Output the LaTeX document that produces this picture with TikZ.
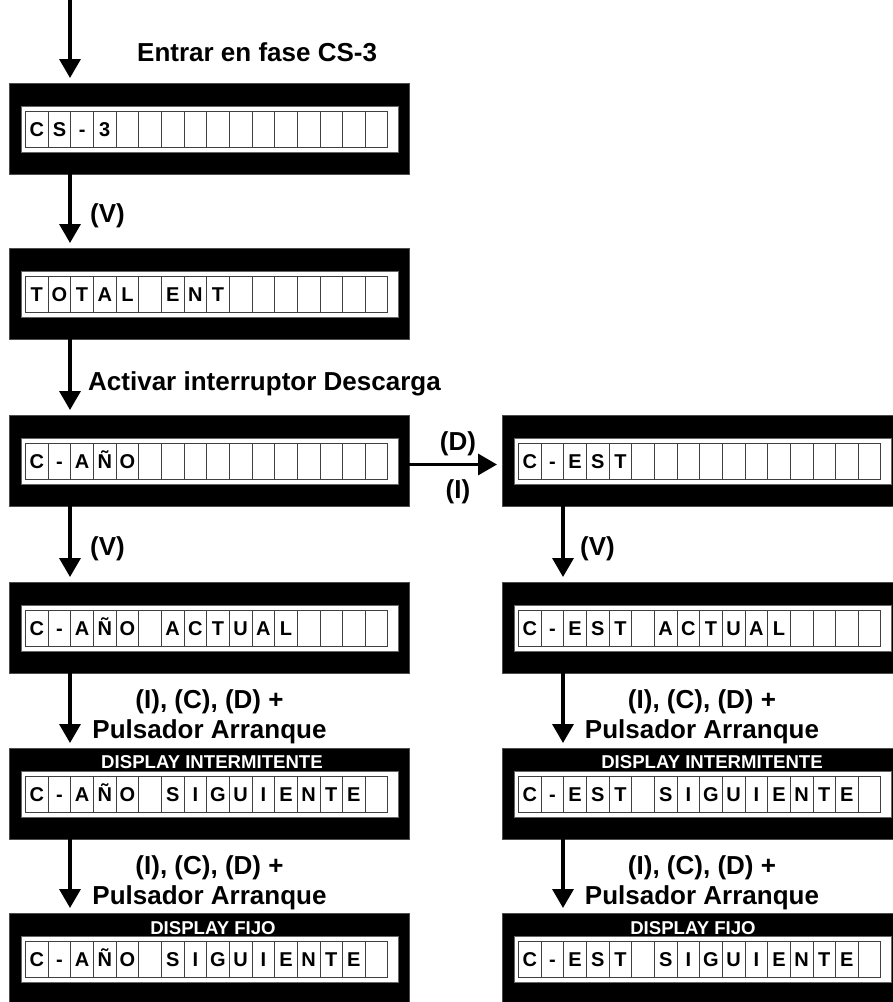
\documentclass[tikz,border=0pt]{standalone}
\usepackage{fontspec}
\setmainfont{Liberation Sans}
\usetikzlibrary{arrows.meta,calc}
\tikzset{
 lcdbox/.style={fill=black, draw=black!70, line width=0.5pt, minimum width=400pt, minimum height=91pt, inner sep=0pt, outer sep=0pt},
 panel/.style={fill=white, draw=black!60, line width=0.8pt},
 cell/.style={draw=black!75, line width=0.9pt},
 ch/.style={font=\fontsize{20}{20}\selectfont\bfseries, inner sep=0pt, anchor=base},
 lbl/.style={font=\fontsize{26}{30}\selectfont\bfseries, inner sep=0pt},
 dlbl/.style={font=\fontsize{18.6}{18.6}\selectfont\bfseries, text=white, inner sep=0pt, anchor=base},
 arr/.style={line width=3.5pt, -{Triangle[width=21pt,length=19pt]}, shorten >=5pt},
}
\newcommand\lcdrow[4]{%
 \node[lcdbox, anchor=north west] (#1) at (#2,#3) {};
 \draw[panel] ($(#1.north west)+(12.5,23.5)$) rectangle ++(377,46);
 \foreach \ch [count=\i from 0] in {#4} {
   \draw[cell] ($(#1.north west)+(16.5+\i*22.65,28.5)$) rectangle ++(22.65,36);
   \node[ch] at ($(#1.north west)+(16.5+\i*22.65+11.3,53.7)$) {\ch};
 }
}
\begin{document}
\begin{tikzpicture}[x=1pt,y=-1pt]
\useasboundingbox (0,0) rectangle (893,1002);
\clip (0,0) rectangle (893,1002);
\fill[white] (0,0) rectangle (893,1002);

\lcdrow{b1}{9}{83}{C,S,-,3,{},{},{},{},{},{},{},{},{},{},{},{}}
\lcdrow{b2}{9}{248}{T,O,T,A,L,{},E,N,T,{},{},{},{},{},{},{}}
\lcdrow{b3}{9}{415}{C,-,A,Ñ,O,{},{},{},{},{},{},{},{},{},{},{}}
\lcdrow{r3}{502}{415}{C,-,E,S,T,{},{},{},{},{},{},{},{},{},{},{}}
\lcdrow{b4}{9}{582}{C,-,A,Ñ,O,{},A,C,T,U,A,L,{},{},{},{}}
\lcdrow{r4}{502}{582}{C,-,E,S,T,{},A,C,T,U,A,L,{},{},{},{}}
\lcdrow{b5}{9}{748}{C,-,A,Ñ,O,{},S,I,G,U,I,E,N,T,E,{}}
\lcdrow{r5}{502}{748}{C,-,E,S,T,{},S,I,G,U,I,E,N,T,E,{}}
\lcdrow{b6}{9}{913}{C,-,A,Ñ,O,{},S,I,G,U,I,E,N,T,E,{}}
\lcdrow{r6}{502}{913}{C,-,E,S,T,{},S,I,G,U,I,E,N,T,E,{}}

% display labels
\node[dlbl] (d5) at (212,768) {DISPLAY INTERMITENTE};
\node[dlbl] (d5r) at (712,768) {DISPLAY INTERMITENTE};
\node[dlbl] (d6) at (213,934) {DISPLAY FIJO};
\node[dlbl] (d6r) at (693,934) {DISPLAY FIJO};

% arrows
\coordinate (start) at (70,0);
\draw[arr] (start) -- ($(b1.north west)+(61,0)$);
\draw[arr] ($(b1.south west)+(61,0)$) -- ($(b2.north west)+(61,0)$);
\draw[arr] ($(b2.south west)+(61,0)$) -- ($(b3.north west)+(61,0)$);
\draw[arr] ($(b3.south west)+(61,0)$) -- ($(b4.north west)+(61,0)$);
\draw[arr] ($(b4.south west)+(61,0)$) -- ($(b5.north west)+(61,0)$);
\draw[arr] ($(b5.south west)+(61,0)$) -- ($(b6.north west)+(61,0)$);
\draw[arr] ($(r3.south west)+(61,0)$) -- ($(r4.north west)+(61,0)$);
\draw[arr] ($(r4.south west)+(61,0)$) -- ($(r5.north west)+(61,0)$);
\draw[arr] ($(r5.south west)+(61,0)$) -- ($(r6.north west)+(61,0)$);
\draw[arr] ($(b3.east)+(0,4)$) -- ($(r3.west)+(0,4)$);

% labels
\node[lbl, anchor=base west] (t0) at (137,61) {Entrar en fase CS-3};
\node[lbl, anchor=base west] (t1) at (90,222) {(V)};
\node[lbl, anchor=base west] (t2) at (88,390) {Activar interruptor Descarga};
\node[lbl, anchor=base] (td) at (458,450) {(D)};
\node[lbl, anchor=base] (ti) at (458,498) {(I)};
\node[lbl, anchor=base west] (t3) at (90,555) {(V)};
\node[lbl, anchor=base west] (t3r) at (580,555) {(V)};
\node[lbl, anchor=base] (t4a) at (209.5,708) {(I), (C), (D) +};
\node[lbl, anchor=base] (t4b) at (209.5,738) {Pulsador Arranque};
\node[lbl, anchor=base] (t4ra) at (702,708) {(I), (C), (D) +};
\node[lbl, anchor=base] (t4rb) at (702,738) {Pulsador Arranque};
\node[lbl, anchor=base] (t5a) at (209.5,874) {(I), (C), (D) +};
\node[lbl, anchor=base] (t5b) at (209.5,904) {Pulsador Arranque};
\node[lbl, anchor=base] (t5ra) at (702,874) {(I), (C), (D) +};
\node[lbl, anchor=base] (t5rb) at (702,904) {Pulsador Arranque};
\end{tikzpicture}
\end{document}
